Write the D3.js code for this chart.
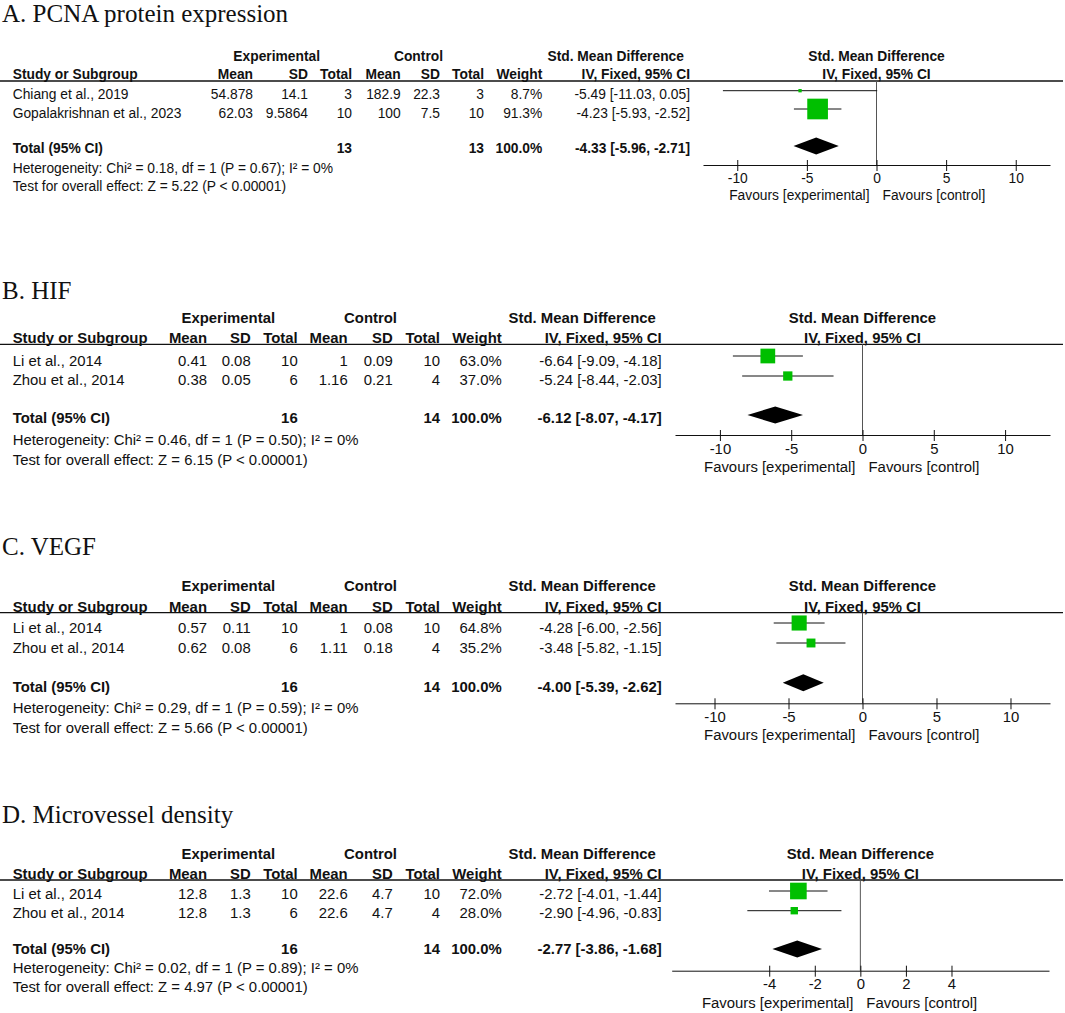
<!DOCTYPE html>
<html>
<head>
<meta charset="utf-8">
<title>Forest plots</title>
<script src="https://d3js.org/d3.v7.min.js"></script>
<style>
  body { margin: 0; background: #fff; }
  text { font-family: "Liberation Sans", Arial, sans-serif; fill: #111; }
  .title { font-family: "Liberation Serif", "Times New Roman", serif; font-size: 25px; }
  .b { font-weight: bold; }
</style>
</head>
<body>
<script>
// ---- data, one entry per panel ----
var panelTitles = ["A. PCNA protein expression", "B. HIF", "C. VEGF", "D. Microvessel density"];
var studyNames = [
  ["Chiang et al., 2019", "Gopalakrishnan et al., 2023"],
  ["Li et al., 2014", "Zhou et al., 2014"],
  ["Li et al., 2014", "Zhou et al., 2014"],
  ["Li et al., 2014", "Zhou et al., 2014"]
];
var expMean = [[54.878, 62.03], [0.41, 0.38], [0.57, 0.62], [12.8, 12.8]];
var expSD   = [[14.1, 9.5864], [0.08, 0.05], [0.11, 0.08], [1.3, 1.3]];
var expN    = [[3, 10], [10, 6], [10, 6], [10, 6]];
var ctlMean = [[182.9, 100], [1, 1.16], [1, 1.11], [22.6, 22.6]];
var ctlSD   = [[22.3, 7.5], [0.09, 0.21], [0.08, 0.18], [4.7, 4.7]];
var ctlN    = [[3, 10], [10, 4], [10, 4], [10, 4]];
var weights = [[8.7, 91.3], [63.0, 37.0], [64.8, 35.2], [72.0, 28.0]];
var smd     = [[-5.49, -4.23], [-6.64, -5.24], [-4.28, -3.48], [-2.72, -2.90]];
var ciLow   = [[-11.03, -5.93], [-9.09, -8.44], [-6.00, -5.82], [-4.01, -4.96]];
var ciHigh  = [[0.05, -2.52], [-4.18, -2.03], [-2.56, -1.15], [-1.44, -0.83]];
var totalExpN = [13, 16, 16, 16];
var totalCtlN = [13, 14, 14, 14];
var totalSmd  = [-4.33, -6.12, -4.00, -2.77];
var totalLow  = [-5.96, -8.07, -5.39, -3.86];
var totalHigh = [-2.71, -4.17, -2.62, -1.68];
var heterogeneity = [
  "Heterogeneity: Chi\u00b2 = 0.18, df = 1 (P = 0.67); I\u00b2 = 0%",
  "Heterogeneity: Chi\u00b2 = 0.46, df = 1 (P = 0.50); I\u00b2 = 0%",
  "Heterogeneity: Chi\u00b2 = 0.29, df = 1 (P = 0.59); I\u00b2 = 0%",
  "Heterogeneity: Chi\u00b2 = 0.02, df = 1 (P = 0.89); I\u00b2 = 0%"
];
var overallTest = [
  "Test for overall effect: Z = 5.22 (P < 0.00001)",
  "Test for overall effect: Z = 6.15 (P < 0.00001)",
  "Test for overall effect: Z = 5.66 (P < 0.00001)",
  "Test for overall effect: Z = 4.97 (P < 0.00001)"
];
var axisTicks = [[-10, -5, 0, 5, 10], [-10, -5, 0, 5, 10], [-10, -5, 0, 5, 10], [-4, -2, 0, 2, 4]];

// ---- layout ----
var colsA = {study: 12.7, expMean: 253, expSD: 308, expN: 352, ctlMean: 400.7, ctlSD: 440, ctlN: 484,
             weight: 542.3, ci: 690, expHdr: 276.7, ctlHdr: 418.5, smdHdr: 615.7};
var colsB = {study: 12.7, expMean: 207, expSD: 250.7, expN: 297.7, ctlMean: 347.7, ctlSD: 392.7, ctlN: 440,
             weight: 501.7, ci: 661.7, expHdr: 228.3, ctlHdr: 370.5, smdHdr: 582.2};
var layout = [
  {titleY: 22, hdr1: 61, hdr2: 79, line: 81, rowText: [99, 118], rowMark: [90.7, 109], total: 153,
   het: 172.5, test: 191, diamond: 146, axis: 165, tickY: 183, favY: 200, fs: 13.8, cols: colsA,
   plotX: [703, 1050], dom: 12.46},
  {titleY: 299, hdr1: 323.3, hdr2: 342.7, line: 344.3, rowText: [366, 385], rowMark: [356, 376], total: 422.7,
   het: 445, test: 465, diamond: 415, axis: 435, tickY: 454, favY: 472, fs: 14.9, cols: colsB,
   plotX: [675, 1050], dom: 13.15},
  {titleY: 555, hdr1: 590.7, hdr2: 611.7, line: 612.7, rowText: [632.7, 652.7], rowMark: [623, 643], total: 691.7,
   het: 712.7, test: 732.7, diamond: 682.7, axis: 703.3, tickY: 721.7, favY: 740, fs: 14.9, cols: colsB,
   plotX: [675, 1050], dom: 12.67},
  {titleY: 823, hdr1: 859, hdr2: 879, line: 880, rowText: [899, 918], rowMark: [891, 910.7], total: 954.3,
   het: 972.7, test: 991.7, diamond: 949, axis: 970.7, tickY: 989.3, favY: 1008, fs: 14.9, cols: colsB,
   plotX: [671.7, 1049], dom: 8.28}
];

var svg = d3.select("body").append("svg")
  .attr("width", 1065)
  .attr("height", 1013);

// box side grows with study weight
var boxSize = d3.scaleLinear().domain([0, 100]).range([1.5, 22.5]);

function txt(g, x, y, s, anchor, bold) {
  return g.append("text")
    .attr("x", x).attr("y", y)
    .attr("text-anchor", anchor || "start")
    .attr("class", bold ? "b" : null)
    .text(s);
}
function ci(est, lo, hi) {
  return est.toFixed(2) + " [" + lo.toFixed(2) + ", " + hi.toFixed(2) + "]";
}

panelTitles.forEach(function(title, p) {
  var L = layout[p], c = L.cols;
  var g = svg.append("g").style("font-size", L.fs + "px");

  svg.append("text").attr("class", "title").attr("x", 2).attr("y", L.titleY).text(title);

  // table headers
  txt(g, c.expHdr, L.hdr1, "Experimental", "middle", true);
  txt(g, c.ctlHdr, L.hdr1, "Control", "middle", true);
  txt(g, c.smdHdr, L.hdr1, "Std. Mean Difference", "middle", true);
  txt(g, c.study, L.hdr2, "Study or Subgroup", "start", true);
  txt(g, c.expMean, L.hdr2, "Mean", "end", true);
  txt(g, c.expSD, L.hdr2, "SD", "end", true);
  txt(g, c.expN, L.hdr2, "Total", "end", true);
  txt(g, c.ctlMean, L.hdr2, "Mean", "end", true);
  txt(g, c.ctlSD, L.hdr2, "SD", "end", true);
  txt(g, c.ctlN, L.hdr2, "Total", "end", true);
  txt(g, c.weight, L.hdr2, "Weight", "end", true);
  txt(g, c.ci, L.hdr2, "IV, Fixed, 95% CI", "end", true);

  g.append("line")
    .attr("x1", 0).attr("x2", 1063)
    .attr("y1", L.line).attr("y2", L.line)
    .attr("stroke", "#111").attr("stroke-width", 1.3);

  // study rows
  studyNames[p].forEach(function(name, i) {
    var y = L.rowText[i];
    txt(g, c.study, y, name);
    txt(g, c.expMean, y, String(expMean[p][i]), "end");
    txt(g, c.expSD, y, String(expSD[p][i]), "end");
    txt(g, c.expN, y, String(expN[p][i]), "end");
    txt(g, c.ctlMean, y, String(ctlMean[p][i]), "end");
    txt(g, c.ctlSD, y, String(ctlSD[p][i]), "end");
    txt(g, c.ctlN, y, String(ctlN[p][i]), "end");
    txt(g, c.weight, y, weights[p][i].toFixed(1) + "%", "end");
    txt(g, c.ci, y, ci(smd[p][i], ciLow[p][i], ciHigh[p][i]), "end");
  });

  // total row + footnotes
  txt(g, c.study, L.total, "Total (95% CI)", "start", true);
  txt(g, c.expN, L.total, String(totalExpN[p]), "end", true);
  txt(g, c.ctlN, L.total, String(totalCtlN[p]), "end", true);
  txt(g, c.weight, L.total, "100.0%", "end", true);
  txt(g, c.ci, L.total, ci(totalSmd[p], totalLow[p], totalHigh[p]), "end", true);
  txt(g, c.study, L.het, heterogeneity[p]);
  txt(g, c.study, L.test, overallTest[p]);

  // forest plot
  var x = d3.scaleLinear().domain([-L.dom, L.dom]).range(L.plotX);
  var x0 = x(0);

  txt(g, x0, L.hdr1, "Std. Mean Difference", "middle", true);
  txt(g, x0, L.hdr2, "IV, Fixed, 95% CI", "middle", true);

  g.append("line")
    .attr("x1", x0).attr("x2", x0)
    .attr("y1", L.line).attr("y2", L.axis)
    .attr("stroke", "#555").attr("stroke-width", 1);

  studyNames[p].forEach(function(name, i) {
    var y = L.rowMark[i], s = boxSize(weights[p][i]);
    g.append("line")
      .attr("x1", x(ciLow[p][i])).attr("x2", x(ciHigh[p][i]))
      .attr("y1", y).attr("y2", y)
      .attr("stroke", "#111").attr("stroke-width", 1);
    g.append("rect")
      .attr("x", x(smd[p][i]) - s / 2).attr("y", y - s / 2)
      .attr("width", s).attr("height", s)
      .attr("fill", "#00bf00");
  });

  var dy = L.diamond, h = 8.5;
  g.append("path")
    .attr("d", "M" + x(totalLow[p]) + "," + dy +
               "L" + x(totalSmd[p]) + "," + (dy - h) +
               "L" + x(totalHigh[p]) + "," + dy +
               "L" + x(totalSmd[p]) + "," + (dy + h) + "Z")
    .attr("fill", "#000");

  var ax = g.append("g")
    .attr("transform", "translate(0," + L.axis + ")")
    .call(d3.axisBottom(x).tickValues(axisTicks[p]).tickFormat(function(d) { return String(d); })
      .tickSize(6).tickSizeOuter(0).tickPadding(6));
  ax.select(".domain").attr("stroke", "#111");
  ax.selectAll(".tick line").attr("y1", -5).attr("stroke", "#111");
  ax.selectAll(".tick text")
    .attr("y", null).attr("dy", null)
    .attr("transform", "translate(0," + (L.tickY - L.axis) + ")")
    .style("font-family", "Liberation Sans, Arial, sans-serif")
    .style("font-size", L.fs + "px")
    .attr("fill", "#111");
  ax.attr("font-size", null).attr("font-family", null);

  txt(g, x0 - 7, L.favY, "Favours [experimental]", "end");
  txt(g, x0 + 6, L.favY, "Favours [control]", "start");
});
</script>
</body>
</html>
